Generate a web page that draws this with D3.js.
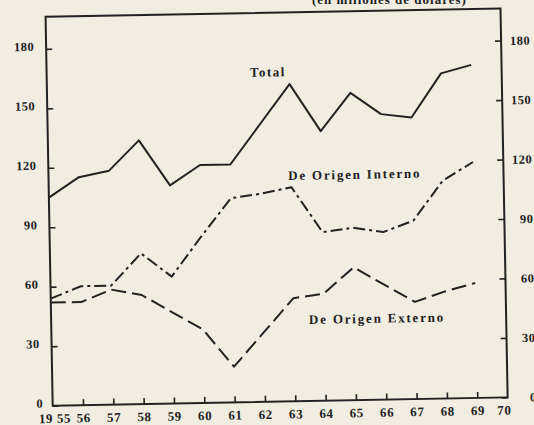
<!DOCTYPE html>
<html>
<head>
<meta charset="utf-8">
<script src="https://cdn.jsdelivr.net/npm/d3@7"></script>
<style>
  body { margin: 0; background: #f1ede1; }
  svg { display: block; }
  text { font-family: "Liberation Serif", "DejaVu Serif", serif; font-weight: bold; fill: #222; }
</style>
</head>
<body>
<div id="chart"></div>
<script>
// data (millones)
const years = [1955, 1956, 1957, 1958, 1959, 1960, 1961, 1962, 1963, 1964, 1965, 1966, 1967, 1968, 1969];
const total = [105, 115, 118, 133, 110, 120, 120, 140, 160, 136, 155, 144, 142, 164, 168];
const interno = [54, 60, 60, 76, 64, 84, 103, 105, 108, 85, 87, 84.5, 90, 110, 119];
const externo = [52, 52, 58, 55, 46, 37, 18, 35, 52, 54, 67, 58, 49, 54, 58];

const xTicks = [1955, 1956, 1957, 1958, 1959, 1960, 1961, 1962, 1963, 1964, 1965, 1966, 1967, 1968, 1969, 1970];
const yTicks = [0, 30, 60, 90, 120, 150, 180];

const seriesNames = ["Total", "De Origen Interno", "De Origen Externo"];
// where the names sit, in chart units
const labelYears = [1961.7, 1962.9, 1963.5];
const labelValues = [164, 111.6, 38.8];

const ink = "#222";
const width = 455;
const height = 389;
const tilt = -1.05; // the scanned page is a bit crooked

const svg = d3.select("#chart")
    .append("svg")
    .attr("width", 534)
    .attr("height", 425);

svg.append("rect")
    .attr("width", 534)
    .attr("height", 425)
    .attr("fill", "#f1ede1");

// title, cut off by the top of the page
svg.append("text")
    .attr("x", 312)
    .attr("y", 3.5)
    .style("font-size", "13px")
    .style("letter-spacing", "1px")
    .text("(en millones de dólares)");

const g = svg.append("g")
    .attr("transform", "translate(52.7,405.7) rotate(" + tilt + ") translate(0," + (-height) + ")");

const x = d3.scaleLinear()
    .domain([1955, 1970])
    .range([0, width]);

const y = d3.scaleLinear()
    .domain([0, 196.2])
    .range([height, 0]);

// frame
g.append("rect")
    .attr("width", width)
    .attr("height", height)
    .attr("fill", "none")
    .attr("stroke", ink)
    .attr("stroke-width", 2);

// X axis
const xAxis = g.append("g")
    .attr("transform", "translate(0," + height + ")")
    .call(d3.axisBottom(x)
        .tickValues(xTicks)
        .tickSize(-6)
        .tickPadding(8)
        .tickFormat(d => d === 1955 ? "19 55" : String(d).slice(2)));
xAxis.select(".domain").remove();
xAxis.selectAll("line").attr("stroke", ink).attr("stroke-width", 1.6)
    .filter(d => d === 1955 || d === 1970).remove();
xAxis.selectAll("text")
    .style("font-size", "13px")
    .style("letter-spacing", "0.6px")
    .attr("fill", ink)
    .attr("x", d => d === 1955 ? 1.5 : d === 1970 ? -4 : 0);

// Y akse venstre
const yLeft = g.append("g")
    .call(d3.axisLeft(y).tickValues(yTicks).tickSize(-6).tickPadding(12));
yLeft.select(".domain").remove();
yLeft.selectAll("line").attr("stroke", ink).attr("stroke-width", 1.6);
yLeft.selectAll("text")
    .style("font-size", "12.5px")
    .style("letter-spacing", "0.5px")
    .attr("fill", ink)
    .attr("dy", "0.1em")
    .attr("x", d => d === 0 ? -9.5 : -12);

// Y akse hoejre
const yRight = g.append("g")
    .attr("transform", "translate(" + width + ",0)")
    .call(d3.axisRight(y).tickValues(yTicks).tickSize(-6).tickPadding(29));
yRight.select(".domain").remove();
yRight.selectAll("line").attr("stroke", ink).attr("stroke-width", 1.6);
yRight.selectAll("text")
    .style("font-size", "12.5px")
    .style("letter-spacing", "0.5px")
    .attr("fill", ink)
    .attr("text-anchor", "end");

// lines
const line = d3.line()
    .x((d, i) => x(years[i]))
    .y(d => y(d));

const series = [total, interno, externo];
const dashes = [null, "12,4,3,4", "15,6"];

g.selectAll(".serie")
    .data(series)
    .enter()
    .append("path")
    .attr("class", "serie")
    .attr("d", line)
    .attr("fill", "none")
    .attr("stroke", ink)
    .attr("stroke-width", 2)
    .attr("stroke-linejoin", "round")
    .attr("stroke-dasharray", (d, i) => dashes[i]);

g.selectAll(".navn")
    .data(seriesNames)
    .enter()
    .append("text")
    .attr("class", "navn")
    .attr("x", (d, i) => x(labelYears[i]))
    .attr("y", (d, i) => y(labelValues[i]))
    .style("font-size", "13px")
    .style("letter-spacing", (d, i) => i === 0 ? "1.5px" : "1.8px")
    .text(d => d);
</script>
</body>
</html>
